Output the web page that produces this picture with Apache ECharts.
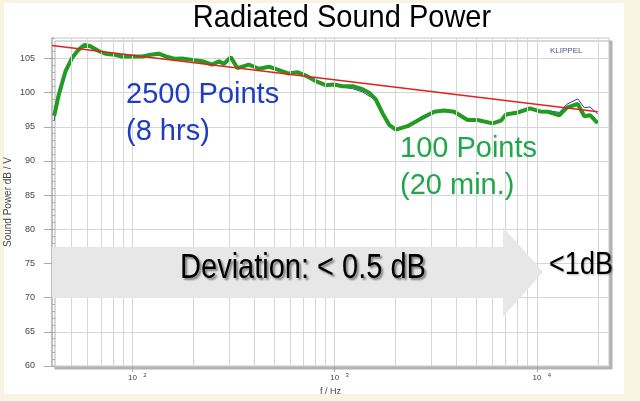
<!DOCTYPE html>
<html><head><meta charset="utf-8">
<script src="https://cdn.jsdelivr.net/npm/echarts@6/dist/echarts.min.js"></script>
<style>
html,body{margin:0;padding:0;background:#f8f4e1;}
#paper{position:absolute;left:4px;top:3px;width:620px;height:391px;background:#fff;}
#chart{position:absolute;left:0;top:0;width:640px;height:401px;}
</style></head><body>
<div id="paper"></div><div id="chart"></div>
<script>
const freqs = [41, 43.2, 46.6, 50.3, 54.2, 58, 62, 68, 73.5, 79.3,
  89, 100, 112, 120, 135, 146, 163, 176, 198, 221,
  248, 268, 283, 306, 330, 376, 422, 473, 530, 594,
  653, 718, 805, 902, 992, 1092, 1224, 1371, 1479, 1596,
  1722, 1858, 2004, 2290, 2665, 3102, 3475, 3895, 4539, 5085,
  6035, 6633, 7023, 8025, 9230, 10350, 11330, 12890, 14050, 15900,
  17140, 18290, 19960];
const points100 = [96.6, 99.7, 103.1, 105.1, 106.3, 107.0, 106.8, 106.1, 105.7, 105.6,
  105.3, 105.3, 105.3, 105.5, 105.7, 105.3, 104.95, 105.0, 104.8, 104.6,
  104.1, 104.6, 104.2, 105.2, 103.6, 104.1, 103.5, 103.8, 103.3, 102.8,
  103.0, 102.5, 101.7, 101.1, 101.2, 100.95, 100.95, 100.5, 100.0, 99.0,
  97.0, 95.3, 94.6, 95.1, 96.2, 97.2, 97.4, 97.2, 96.0, 96.0,
  95.5, 95.9, 96.8, 97.1, 97.7, 97.25, 97.2, 96.7, 97.8, 98.35,
  96.55, 96.7, 95.55];
const points2500 = [95.9, 99.6, 103.1, 105.1, 106.3, 107.0, 106.8, 106.1, 105.7, 105.6,
  105.3, 105.3, 105.3, 105.5, 105.7, 105.3, 104.95, 105.0, 104.8, 104.6,
  104.1, 104.6, 104.2, 105.2, 103.6, 104.1, 103.5, 103.8, 103.3, 102.8,
  103.0, 102.5, 101.7, 101.1, 101.2, 100.8, 100.6, 100.1, 99.5, 99.0,
  97.0, 95.3, 94.6, 95.1, 96.2, 97.2, 97.4, 97.2, 96.0, 96.0,
  95.5, 95.9, 96.8, 97.1, 97.7, 97.3, 97.4, 97.1, 98.3, 99.1,
  97.8, 97.9, 96.9];
const trendFreqs = [40, 20000];
const trendValues = [106.9, 97.2];
const gridFreqs = [50, 60, 70, 80, 90, 100, 200, 300, 400, 500, 600, 700, 800, 900,
  1000, 2000, 3000, 4000, 5000, 6000, 7000, 8000, 9000, 10000, 20000];
const xTicks = [100, 1000, 10000];
const yTicks = [60, 65, 70, 75, 80, 85, 90, 95, 100, 105];

const FONT = 'Liberation Sans, Arial, sans-serif';
const chart = echarts.init(document.getElementById('chart'));
const pair = (fs, vs) => fs.map((f, i) => [f, vs[i]]);

chart.setOption({
  animation: false,
  grid: {left: 52, right: 31, top: 38, bottom: 35, show: true, containLabel: false,
    outerBoundsMode: 'none',
    backgroundColor: '#ffffff', borderColor: '#c6c6c6', borderWidth: 1,
    shadowColor: '#b2b2b2', shadowOffsetX: 3, shadowOffsetY: 3, shadowBlur: 0},
  xAxis: {
    type: 'log', logBase: 10, min: 40, max: 22700,
    name: 'f / Hz', nameLocation: 'middle', nameGap: 21, nameMoveOverlap: false,
    nameTextStyle: {fontSize: 9, color: '#444', fontFamily: FONT},
    axisLine: {show: true, lineStyle: {color: '#c6c6c6', width: 1}},
    axisTick: {show: true, length: 6, customValues: xTicks, lineStyle: {color: '#aaa'}},
    axisLabel: {customValues: xTicks, margin: 6, fontFamily: FONT,
      formatter: v => '{p|}{b|10}{s|' + Math.round(Math.log10(v)) + '}',
      rich: {p: {width: 10}, b: {fontSize: 8, color: '#444', fontFamily: FONT},
             s: {fontSize: 6, color: '#444', fontFamily: FONT, width: 4, padding: [0, 0, 5, 6]}}},
    splitLine: {show: false}
  },
  yAxis: [{
    type: 'value', min: 60, max: 108, interval: 5, position: 'left',
    name: 'Sound Power dB / V', nameLocation: 'middle', nameGap: 39, nameMoveOverlap: false,
    nameTextStyle: {fontSize: 10, color: '#444', fontFamily: FONT},
    axisLine: {show: true, lineStyle: {color: '#c0c0c0', width: 2}},
    axisTick: {show: true, length: 8, customValues: yTicks, lineStyle: {color: '#aaa'}},
    axisLabel: {customValues: yTicks, margin: 17, fontSize: 9, color: '#444', fontFamily: FONT},
    splitLine: {show: true, lineStyle: {color: '#d6d6d6', width: 1}}
  }, {
    type: 'value', min: 60, max: 108, interval: 1, position: 'left',
    axisLine: {show: false},
    axisTick: {show: true, inside: true, length: 3, lineStyle: {color: '#aaa'}},
    axisLabel: {show: false}, splitLine: {show: false}
  }],
  series: [
    {type: 'line', data: [], z: 1, silent: true,
     markLine: {silent: true, symbol: 'none', label: {show: false}, animation: false,
       lineStyle: {color: '#d6d6d6', width: 1, type: 'solid'},
       data: gridFreqs.map(f => ({xAxis: f}))}},
    {type: 'line', name: '2500 Points', data: pair(freqs, points2500), symbol: 'none', z: 3,
     lineStyle: {color: '#3b3ba6', width: 1}},
    {type: 'line', name: '100 Points', data: pair(freqs, points100), symbol: 'none', z: 4,
     lineStyle: {color: '#239a22', width: 4}},
    {type: 'line', name: 'Trend', data: pair(trendFreqs, trendValues), symbol: 'none', z: 5,
     lineStyle: {color: '#e0221f', width: 1.5}}
  ],
  graphic: [
    {type: 'text', x: 342, y: 19, z: 20, scaleY: 1.05,
     style: {text: 'Radiated Sound Power', font: '29px ' + FONT, fill: '#000',
       align: 'center', verticalAlign: 'middle', textAlign: 'center', textVerticalAlign: 'middle'}},
    {type: 'text', x: 550, y: 51, z: 20,
     style: {text: 'KLIPPEL', font: '8px ' + FONT, fill: '#4a5688',
       align: 'left', verticalAlign: 'middle', textAlign: 'left', textVerticalAlign: 'middle'}},
    {type: 'text', x: 126, y: 95, z: 20,
     style: {text: '2500 Points', font: '29px ' + FONT, fill: '#1f3dbd',
       align: 'left', verticalAlign: 'middle', textAlign: 'left', textVerticalAlign: 'middle'}},
    {type: 'text', x: 126, y: 132, z: 20,
     style: {text: '(8 hrs)', font: '29px ' + FONT, fill: '#1f3dbd',
       align: 'left', verticalAlign: 'middle', textAlign: 'left', textVerticalAlign: 'middle'}},
    {type: 'text', x: 400, y: 149, z: 20,
     style: {text: '100 Points', font: '29px ' + FONT, fill: '#22a64c',
       align: 'left', verticalAlign: 'middle', textAlign: 'left', textVerticalAlign: 'middle'}},
    {type: 'text', x: 400, y: 186, z: 20,
     style: {text: '(20 min.)', font: '29px ' + FONT, fill: '#22a64c',
       align: 'left', verticalAlign: 'middle', textAlign: 'left', textVerticalAlign: 'middle'}},
    {type: 'polygon', z: 15,
     shape: {points: [[52, 247], [503, 247], [503, 227], [543, 272], [503, 317], [503, 298], [52, 298]]},
     style: {fill: '#e7e7e7'}},
    {type: 'text', x: 303, y: 268, z: 20, scaleY: 1.2,
     style: {text: 'Deviation: < 0.5 dB', font: '29px ' + FONT, fill: '#000',
       textShadowColor: 'rgba(0,0,0,0.45)', textShadowOffsetX: 2, textShadowOffsetY: 2, textShadowBlur: 2,
       align: 'center', verticalAlign: 'middle', textAlign: 'center', textVerticalAlign: 'middle'}},
    {type: 'text', x: 581, y: 265, z: 20, scaleY: 1.15,
     style: {text: '<1dB', font: '27px ' + FONT, fill: '#000',
       textShadowColor: 'rgba(0,0,0,0.3)', textShadowOffsetX: 1, textShadowOffsetY: 1, textShadowBlur: 2,
       align: 'center', verticalAlign: 'middle', textAlign: 'center', textVerticalAlign: 'middle'}}
  ]
});
</script>
</body></html>
